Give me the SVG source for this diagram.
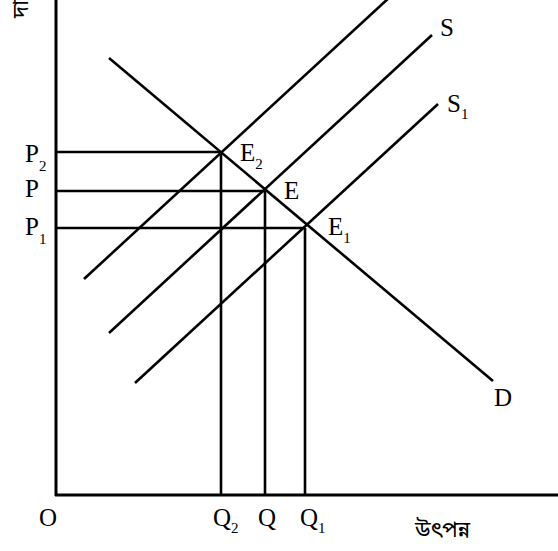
<svg xmlns="http://www.w3.org/2000/svg" width="558" height="551" viewBox="0 0 558 551">
<style>
.ax{stroke:#000;stroke-width:3;fill:none}
.ln{stroke:#000;stroke-width:2.6;fill:none;stroke-linecap:butt}
.t{font-family:"Liberation Serif","Times New Roman",serif;font-size:25px;fill:#000}
.s{font-size:15px}
.bn{font-family:"Noto Sans Bengali","Vrinda","Noto Sans","Liberation Serif",serif;font-size:22px;fill:#000}
</style>
<rect width="558" height="551" fill="#fff"/>
<g id="axes">
<line class="ax" x1="56" y1="0" x2="56" y2="496"/>
<line class="ax" x1="55" y1="495" x2="558" y2="495"/>
</g>
<g id="connectors">
<line class="ln" x1="56" y1="152" x2="221" y2="152"/>
<line class="ln" x1="56" y1="191" x2="265" y2="191"/>
<line class="ln" x1="56" y1="228" x2="305" y2="228"/>
<line class="ln" x1="221" y1="152" x2="221" y2="495"/>
<line class="ln" x1="265" y1="191" x2="265" y2="495"/>
<line class="ln" x1="305" y1="228" x2="305" y2="495"/>
<line class="ln" x1="109" y1="58" x2="493" y2="381"/>
<line class="ln" x1="84" y1="279" x2="391" y2="-4"/>
<line class="ln" x1="109" y1="333" x2="432" y2="35"/>
<line class="ln" x1="135" y1="383" x2="438" y2="104"/>
</g>
<g id="labels">
<text class="bn" transform="translate(28,18) rotate(-90)">দাম</text>
<text class="t" x="25" y="162">P<tspan class="s" dy="9">2</tspan></text>
<text class="t" x="25" y="197">P</text>
<text class="t" x="25" y="235">P<tspan class="s" dy="9">1</tspan></text>
<text class="t" x="240" y="161">E<tspan class="s" dy="8">2</tspan></text>
<text class="t" x="284" y="199">E</text>
<text class="t" x="328" y="235">E<tspan class="s" dy="8">1</tspan></text>
<text class="t" x="440" y="36">S</text>
<text class="t" x="447" y="112">S<tspan class="s" dy="7">1</tspan></text>
<text class="t" x="494" y="406">D</text>
<text class="t" x="39" y="526">O</text>
<text class="t" x="213" y="526">Q<tspan class="s" dy="7">2</tspan></text>
<text class="t" x="258" y="526">Q</text>
<text class="t" x="300" y="526">Q<tspan class="s" dy="7">1</tspan></text>
<text class="bn" x="415" y="537">উৎপন্ন</text>
</g>
</svg>
